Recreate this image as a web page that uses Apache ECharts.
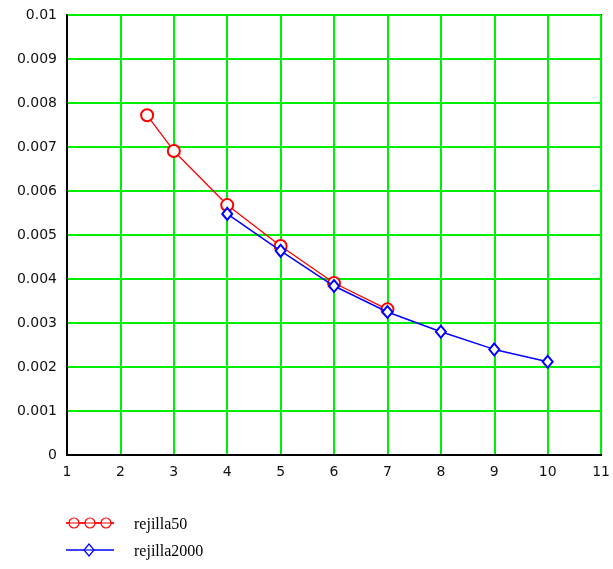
<!DOCTYPE html>
<html>
<head>
<meta charset="utf-8">
<script src="https://cdn.jsdelivr.net/npm/echarts@6/dist/echarts.min.js"></script>
<style>html,body{margin:0;padding:0;background:#fff;}#c{width:613px;height:569px;}</style>
</head>
<body>
<div id="c"></div>
<script>
var x50 = [2.5, 3, 4, 5, 6, 7];
var y50 = [0.00772, 0.00691, 0.00568, 0.00475, 0.00391, 0.00331];
var x2000 = [4, 5, 6, 7, 8, 9, 10];
var y2000 = [0.00548, 0.00464, 0.00384, 0.00325, 0.00280, 0.00240, 0.00212];
var seriesNames = ['rejilla50', 'rejilla2000'];

function pairs(xs, ys) { return xs.map(function (x, i) { return [x, ys[i]]; }); }

var chart = echarts.init(document.getElementById('c'));
var labelStyle = { color: '#111', fontFamily: 'DejaVu Sans', fontSize: 14 };
chart.setOption({
  animation: false,
  backgroundColor: '#fff',
  grid: { left: 67, right: 11, top: 15, bottom: 114, show: true, borderColor: '#000', borderWidth: 2, backgroundColor: 'transparent' },
  xAxis: {
    type: 'value', min: 1, max: 11, interval: 1,
    axisLine: { show: true, lineStyle: { color: '#000', width: 2 } },
    axisTick: { show: false },
    splitLine: { show: true, lineStyle: { color: '#00ee00', width: 2 } },
    axisLabel: Object.assign({ margin: 10 }, labelStyle)
  },
  yAxis: {
    type: 'value', min: 0, max: 0.01, interval: 0.001,
    axisLine: { show: true, lineStyle: { color: '#000', width: 2 } },
    axisTick: { show: false },
    splitLine: { show: true, lineStyle: { color: '#00ee00', width: 2 } },
    axisLabel: Object.assign({ margin: 10, formatter: function (v) { return v === 0 ? '0' : String(parseFloat(v.toFixed(3))); } }, labelStyle)
  },
  series: [
    {
      name: seriesNames[0], type: 'line', data: pairs(x50, y50),
      symbol: 'emptyCircle', symbolSize: 12,
      lineStyle: { color: '#ff0000', width: 1.3 },
      itemStyle: { color: '#ff0000', borderColor: '#ff0000', borderWidth: 1.2 },
      z: 2
    },
    {
      name: seriesNames[1], type: 'line', data: pairs(x2000, y2000),
      symbol: 'emptyDiamond', symbolSize: [10, 12],
      lineStyle: { color: '#0000ff', width: 1.5 },
      itemStyle: { color: '#0000ff', borderColor: '#0000ff', borderWidth: 1.2 },
      z: 3
    }
  ],
  graphic: [
    { type: 'line', shape: { x1: 66, y1: 523, x2: 114, y2: 523 }, style: { stroke: '#ff0000', lineWidth: 1.5 } },
    { type: 'circle', shape: { cx: 74, cy: 523, r: 5 }, style: { stroke: '#ff0000', fill: '#fff', lineWidth: 1.2 } },
    { type: 'circle', shape: { cx: 90, cy: 523, r: 5 }, style: { stroke: '#ff0000', fill: '#fff', lineWidth: 1.2 } },
    { type: 'circle', shape: { cx: 106, cy: 523, r: 5 }, style: { stroke: '#ff0000', fill: '#fff', lineWidth: 1.2 } },
    { type: 'line', shape: { x1: 66, y1: 523, x2: 114, y2: 523 }, style: { stroke: '#ff0000', lineWidth: 1.2 } },
    { type: 'text', x: 134, y: 525, style: { text: seriesNames[0], fill: '#000', font: '16px "Liberation Serif"', textVerticalAlign: 'middle' } },
    { type: 'line', shape: { x1: 66, y1: 550, x2: 114, y2: 550 }, style: { stroke: '#0000ff', lineWidth: 1.5 } },
    { type: 'polygon', shape: { points: [[89, 544], [94, 550], [89, 556], [84, 550]] }, style: { stroke: '#0000ff', fill: '#fff', lineWidth: 1.2 } },
    { type: 'line', shape: { x1: 84, y1: 550, x2: 94, y2: 550 }, style: { stroke: '#0000ff', lineWidth: 1.2 } },
    { type: 'text', x: 134, y: 552, style: { text: seriesNames[1], fill: '#000', font: '16px "Liberation Serif"', textVerticalAlign: 'middle' } }
  ]
});
</script>
</body>
</html>
